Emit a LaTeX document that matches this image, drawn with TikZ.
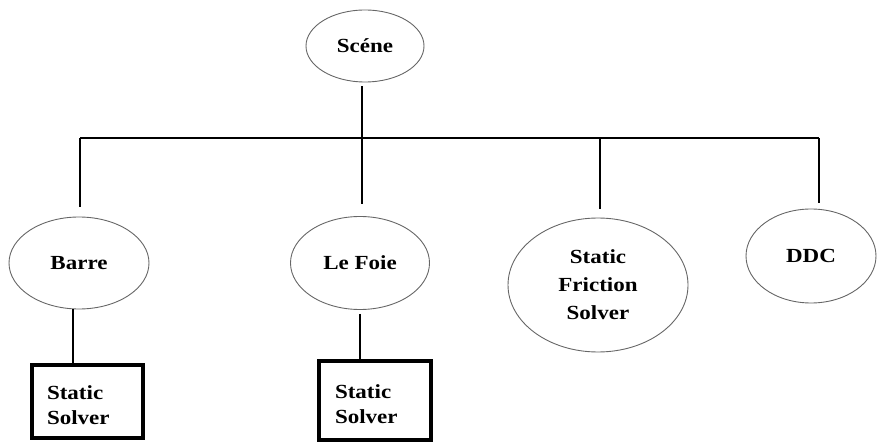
\documentclass[tikz,border=0pt]{standalone}
\usepackage{fontspec}
\setmainfont{Liberation Serif}[FakeStretch=1.15]
\usetikzlibrary{shapes}

\begin{document}
\begin{tikzpicture}[x=1pt,y=-1pt,
  bubble/.style={ellipse,draw=black!60,line width=0.9pt,inner sep=0pt,align=center,
    font=\bfseries\fontsize{20}{28}\selectfont},
  solverbox/.style={rectangle,draw,line width=3.5pt,inner ysep=0pt,align=left,
    font=\bfseries\fontsize{20}{25}\selectfont},
  link/.style={line width=2.6pt}]
\useasboundingbox (0,0) rectangle (877,443);
\node[bubble,minimum width=118,minimum height=72] (scene) at (365,46) {Scéne};
\node[bubble,minimum width=140,minimum height=92] (barre) at (79,263) {Barre};
\node[bubble,minimum width=139,minimum height=93] (foie) at (360,263) {Le Foie};
\node[bubble,minimum width=180,minimum height=134] (friction) at (598,285) {Static\\Friction\\Solver};
\node[bubble,minimum width=130,minimum height=94] (ddc) at (811,256) {DDC};
\node[solverbox,minimum width=111,minimum height=73,text width=81,inner xsep=15] (barresolver) at (87.5,401.5) {\rule{0pt}{22pt}Static\\Solver};
\node[solverbox,minimum width=112,minimum height=79,text width=80,inner xsep=16] (foiesolver) at (375,400.5) {\rule{0pt}{22pt}Static\\Solver};
\coordinate (bar) at (362,138);
\coordinate (barL) at (80,138);
\coordinate (barC) at (600,138);
\coordinate (barR) at (819,138);
\draw[link,shorten <=4pt] (scene.south -| bar) -- (bar);
\draw[link] (barL) -- (barR);
\draw[link,shorten >=10pt] (barL) -- (barre.north -| barL);
\draw[link,shorten >=12pt] (bar) -- (foie.north -| bar);
\draw[link,shorten >=9pt] (barC) -- (friction.north -| barC);
\draw[link,shorten >=6pt] (barR) -- (ddc.north -| barR);
\draw[link] ([xshift=-6pt]barre.south) -- ([xshift=-6pt]barre.south |- barresolver.north);
\draw[link,shorten <=4pt] (foie.south) -- (foie.south |- foiesolver.north);
\end{tikzpicture}
\end{document}
